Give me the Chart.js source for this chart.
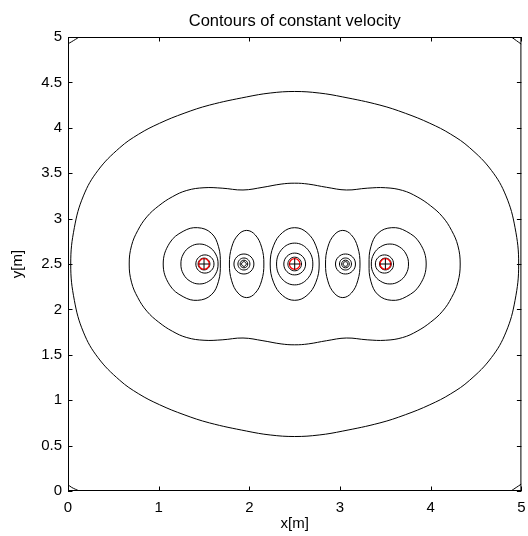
<!DOCTYPE html>
<html>
<head>
<meta charset="utf-8">
<script src="https://cdn.jsdelivr.net/npm/chart.js@4.4.1/dist/chart.umd.min.js"></script>
<style>
  html, body { margin: 0; padding: 0; background: #fff; }
  #wrap { width: 528px; height: 536px; }
</style>
</head>
<body>
<div id="wrap"><canvas id="chart"></canvas></div>
<script>
// Contour traces (x[m], y[m])
const outerX = [0.03, 0.07, 0.17, 0.33, 0.57, 0.78, 1.01, 1.28, 1.56, 1.97, 2.23, 2.5, 2.77, 3.03, 3.44, 3.72, 3.99, 4.22, 4.43, 4.67, 4.83, 4.93, 4.97,
  4.93, 4.83, 4.67, 4.43, 4.22, 3.99, 3.72, 3.44, 3.03, 2.77, 2.5, 2.23, 1.97, 1.56, 1.28, 1.01, 0.78, 0.57, 0.33, 0.17, 0.07];
const outerY = [2.5, 2.9, 3.25, 3.53, 3.78, 3.93, 4.05, 4.16, 4.25, 4.34, 4.383, 4.40, 4.383, 4.34, 4.25, 4.16, 4.05, 3.93, 3.78, 3.53, 3.25, 2.9, 2.5,
  2.1, 1.75, 1.47, 1.22, 1.07, 0.95, 0.84, 0.75, 0.66, 0.617, 0.60, 0.617, 0.66, 0.75, 0.84, 0.95, 1.07, 1.22, 1.47, 1.75, 2.1];

const peanutX = [0.675, 0.70, 0.77, 0.87, 1.0, 1.15, 1.31, 1.5, 1.7, 1.93, 2.15, 2.35, 2.5, 2.65, 2.85, 3.07, 3.3, 3.5, 3.69, 3.85, 4.0, 4.13, 4.23, 4.30, 4.325,
  4.30, 4.23, 4.13, 4.0, 3.85, 3.69, 3.5, 3.3, 3.07, 2.85, 2.65, 2.5, 2.35, 2.15, 1.93, 1.7, 1.5, 1.31, 1.15, 1.0, 0.87, 0.77, 0.70];
const peanutY = [2.5, 2.70, 2.87, 3.02, 3.14, 3.24, 3.31, 3.34, 3.335, 3.315, 3.345, 3.38, 3.39, 3.38, 3.345, 3.315, 3.335, 3.34, 3.31, 3.24, 3.14, 3.02, 2.87, 2.70, 2.5,
  2.30, 2.13, 1.98, 1.86, 1.76, 1.69, 1.66, 1.665, 1.685, 1.655, 1.62, 1.61, 1.62, 1.655, 1.685, 1.665, 1.66, 1.69, 1.76, 1.86, 1.98, 2.13, 2.30];

// lobes around the marked points at 1.5 and 3.5
const lobeY = [2.5, 2.69, 2.84, 2.90, 2.86, 2.73, 2.5, 2.27, 2.14, 2.10, 2.16, 2.31];
const lobe1X = [1.68, 1.66, 1.58, 1.43, 1.27, 1.12, 1.05, 1.12, 1.27, 1.43, 1.58, 1.66];
const lobe5X = [3.32, 3.34, 3.42, 3.57, 3.73, 3.88, 3.95, 3.88, 3.73, 3.57, 3.42, 3.34];
const eggY = [2.5, 2.61, 2.69, 2.72, 2.69, 2.61, 2.5, 2.39, 2.31, 2.28, 2.31, 2.39];
const egg1X = [1.655, 1.628, 1.5525, 1.45, 1.3475, 1.272, 1.245, 1.272, 1.3475, 1.45, 1.5525, 1.628];
const egg5X = [3.345, 3.372, 3.4475, 3.55, 3.6525, 3.728, 3.755, 3.728, 3.6525, 3.55, 3.4475, 3.372];

// lobe around the middle point at 2.5
const lobe3X = [2.77, 2.734, 2.635, 2.5, 2.365, 2.266, 2.23, 2.266, 2.365, 2.5, 2.635, 2.734];
const lobe3Y = [2.5, 2.70, 2.846, 2.90, 2.846, 2.70, 2.5, 2.30, 2.154, 2.10, 2.154, 2.30];

// tall lobes around the points at 1.93 and 3.07
const tallY = [2.5, 2.685, 2.82, 2.87, 2.82, 2.685, 2.5, 2.315, 2.18, 2.13, 2.18, 2.315];
const tall2X = [2.16, 2.135, 2.065, 1.97, 1.875, 1.805, 1.78, 1.805, 1.875, 1.97, 2.065, 2.135];
const tall4X = [2.84, 2.865, 2.935, 3.03, 3.125, 3.195, 3.22, 3.195, 3.125, 3.03, 2.935, 2.865];

// small rings (8 traced points each)
const ringsX = [
  [1.61, 1.581, 1.51, 1.439, 1.41, 1.439, 1.51, 1.581],
  [1.565, 1.546, 1.5, 1.454, 1.435, 1.454, 1.5, 1.546],
  [3.59, 3.561, 3.49, 3.419, 3.39, 3.419, 3.49, 3.561],
  [3.565, 3.546, 3.5, 3.454, 3.435, 3.454, 3.5, 3.546],
  [2.7, 2.641, 2.5, 2.359, 2.3, 2.359, 2.5, 2.641],
  [2.62, 2.585, 2.5, 2.415, 2.38, 2.415, 2.5, 2.585],
  [2.575, 2.553, 2.5, 2.447, 2.425, 2.447, 2.5, 2.553],
  [2.05, 2.018, 1.94, 1.862, 1.83, 1.862, 1.94, 2.018],
  [2.006, 1.987, 1.94, 1.893, 1.874, 1.893, 1.94, 1.987],
  [1.982, 1.97, 1.94, 1.91, 1.898, 1.91, 1.94, 1.97],
  [1.966, 1.958, 1.94, 1.922, 1.914, 1.922, 1.94, 1.958],
  [3.17, 3.138, 3.06, 2.982, 2.95, 2.982, 3.06, 3.138],
  [3.126, 3.107, 3.06, 3.013, 2.994, 3.013, 3.06, 3.107],
  [3.102, 3.09, 3.06, 3.03, 3.018, 3.03, 3.06, 3.09],
  [3.086, 3.078, 3.06, 3.042, 3.034, 3.042, 3.06, 3.078]
];
const ringsY = [
  [2.5, 2.571, 2.6, 2.571, 2.5, 2.429, 2.4, 2.429],
  [2.5, 2.546, 2.565, 2.546, 2.5, 2.454, 2.435, 2.454],
  [2.5, 2.571, 2.6, 2.571, 2.5, 2.429, 2.4, 2.429],
  [2.5, 2.546, 2.565, 2.546, 2.5, 2.454, 2.435, 2.454],
  [2.5, 2.663, 2.73, 2.663, 2.5, 2.337, 2.27, 2.337],
  [2.5, 2.585, 2.62, 2.585, 2.5, 2.415, 2.38, 2.415],
  [2.5, 2.553, 2.575, 2.553, 2.5, 2.447, 2.425, 2.447],
  [2.5, 2.578, 2.61, 2.578, 2.5, 2.422, 2.39, 2.422],
  [2.5, 2.547, 2.566, 2.547, 2.5, 2.453, 2.434, 2.453],
  [2.5, 2.53, 2.542, 2.53, 2.5, 2.47, 2.458, 2.47],
  [2.5, 2.518, 2.526, 2.518, 2.5, 2.482, 2.474, 2.482],
  [2.5, 2.578, 2.61, 2.578, 2.5, 2.422, 2.39, 2.422],
  [2.5, 2.547, 2.566, 2.547, 2.5, 2.453, 2.434, 2.453],
  [2.5, 2.53, 2.542, 2.53, 2.5, 2.47, 2.458, 2.47],
  [2.5, 2.518, 2.526, 2.518, 2.5, 2.482, 2.474, 2.482]
];

// short contour pieces cut by the corners
const cornersX = [[0, 0.04, 0.125], [4.89, 5.0], [0, 0.04, 0.125], [4.885, 5.0]];
const cornersY = [[4.925, 4.948, 5.0], [5.0, 4.92], [0.07, 0.04, 0.0], [0.0, 0.077]];

// marked points
const markX = [1.5, 2.5, 3.5];
const markY = [2.5, 2.5, 2.5];

const xTicks = { min: 0, max: 5, step: 1 };
const yTicks = { min: 0, max: 5, step: 0.5 };

const FONT = "'Liberation Sans', Arial, Helvetica, sans-serif";
const TICK_LEN = 4.5;

function pts(xs, ys) {
  return xs.map((x, i) => ({ x: x, y: ys[i] }));
}

function contour(xs, ys, closed) {
  return {
    data: pts(xs, ys),
    closed: closed,
    borderColor: "#000",
    borderWidth: 1,
    pointRadius: 0,
    tension: 0.4,
    fill: false,
  };
}

const datasets = [
  {
    data: pts(markX, markY),
    showLine: false,
    pointStyle: "cross",
    pointRadius: 5.5,
    pointBorderColor: "#000",
    pointBorderWidth: 1,
  },
  {
    data: pts(markX, markY),
    showLine: false,
    pointStyle: "circle",
    pointRadius: 5.3,
    pointBackgroundColor: "rgba(0,0,0,0)",
    pointBorderColor: "#ff0000",
    pointBorderWidth: 1.3,
  },
  contour(outerX, outerY, true),
  contour(peanutX, peanutY, true),
  contour(lobe1X, lobeY, true),
  contour(lobe5X, lobeY, true),
  contour(egg1X, eggY, true),
  contour(egg5X, eggY, true),
  contour(lobe3X, lobe3Y, true),
  contour(tall2X, tallY, true),
  contour(tall4X, tallY, true),
];
ringsX.forEach((xs, i) => datasets.push(contour(xs, ringsY[i], true)));
cornersX.forEach((xs, i) => datasets.push(contour(xs, cornersY[i], false)));

// closed contours: let the line element wrap around like a radar line
const closeLoops = {
  id: "closeLoops",
  afterDatasetUpdate(chart, args) {
    const ds = chart.data.datasets[args.index];
    const line = args.meta.dataset;
    if (ds.closed && line) {
      line._loop = true;
      line._fullLoop = true;
      line._pointsUpdated = false;
      delete line._segments;
      delete line._path;
    }
  },
};

// box and inward ticks on all four sides
const frame = {
  id: "frame",
  afterDatasetsDraw(chart) {
    const { ctx, chartArea: a, scales } = chart;
    const x = scales.x;
    const y = scales.y;
    ctx.save();
    ctx.strokeStyle = "#000";
    ctx.lineWidth = 1;
    ctx.strokeRect(a.left + 0.5, a.top + 0.5, a.width - 1, a.height - 1);
    ctx.beginPath();
    x.ticks.forEach((t) => {
      const px = Math.round(x.getPixelForValue(t.value)) + 0.5;
      ctx.moveTo(px, a.bottom);
      ctx.lineTo(px, a.bottom - TICK_LEN);
      ctx.moveTo(px, a.top);
      ctx.lineTo(px, a.top + TICK_LEN);
    });
    y.ticks.forEach((t) => {
      const py = Math.round(y.getPixelForValue(t.value)) + 0.5;
      ctx.moveTo(a.left, py);
      ctx.lineTo(a.left + TICK_LEN, py);
      ctx.moveTo(a.right, py);
      ctx.lineTo(a.right - TICK_LEN, py);
    });
    ctx.stroke();
    ctx.restore();
  },
};

Chart.defaults.font.family = FONT;
Chart.defaults.color = "#000";

new Chart(document.getElementById("chart"), {
  type: "line",
  data: { datasets: datasets },
  options: {
    responsive: true,
    maintainAspectRatio: false,
    animation: false,
    events: [],
    layout: { padding: { left: 0, right: 6, top: 0, bottom: 0 } },
    plugins: {
      legend: { display: false },
      tooltip: { enabled: false },
    },
    scales: {
      x: {
        type: "linear",
        position: "bottom",
        min: xTicks.min,
        max: xTicks.max,
        grid: { display: false, drawTicks: false },
        border: { display: false },
        ticks: { stepSize: xTicks.step, padding: 8, maxRotation: 0, font: { size: 15 }, color: "#000", callback: (v) => String(v) },
        title: { display: true, text: "x[m]", font: { size: 15 }, padding: { top: 0, bottom: 3 }, color: "#000" },
        afterFit(s) { s.height = 45; s.paddingLeft = 0; s.paddingRight = 0; },
      },
      top: {
        type: "linear",
        position: "top",
        axis: "x",
        min: xTicks.min,
        max: xTicks.max,
        grid: { display: false, drawTicks: false },
        border: { display: false },
        ticks: { display: false },
        title: { display: true, text: "Contours of constant velocity", font: { size: 16.5 }, padding: { top: 11.5, bottom: 0 }, color: "#000" },
        afterFit(s) { s.height = 37; s.paddingLeft = 0; s.paddingRight = 0; },
      },
      y: {
        type: "linear",
        min: yTicks.min,
        max: yTicks.max,
        grid: { display: false, drawTicks: false },
        border: { display: false },
        ticks: { stepSize: yTicks.step, padding: 6, font: { size: 15 }, color: "#000", callback: (v) => String(v) },
        title: { display: true, text: "y[m]", font: { size: 15 }, padding: { top: 9, bottom: 0 }, color: "#000" },
        afterFit(s) { s.width = 68; s.paddingTop = 0; s.paddingBottom = 0; },
      },
    },
  },
  plugins: [closeLoops, frame],
});
</script>
</body>
</html>
